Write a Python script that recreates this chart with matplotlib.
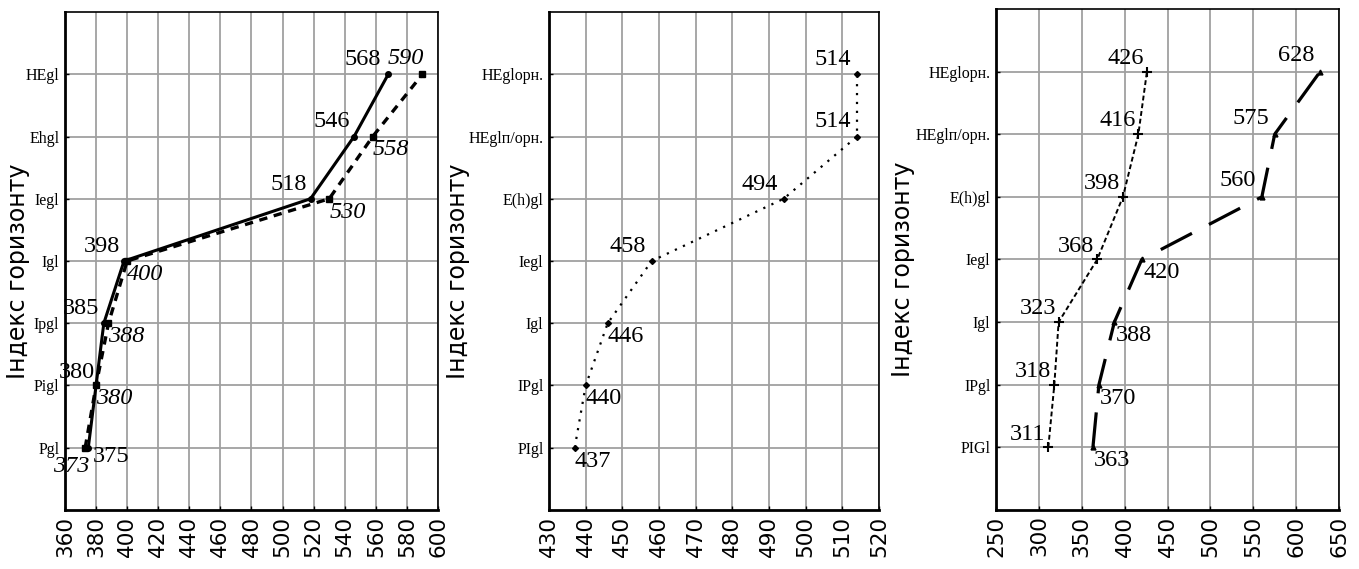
import numpy as np
import matplotlib.pyplot as plt

# --- panel 1 ---
cats1 = ["Pgl", "Pigl", "Ipgl", "Igl", "Iegl", "Ehgl", "HEgl"]
solid1 = [375, 380, 385, 398, 518, 546, 568]
dashed1 = [373, 380, 388, 400, 530, 558, 590]

# --- panel 2 ---
cats2 = ["PIgl", "IPgl", "Igl", "Iegl", "E(h)gl", "HEglп/орн.", "HEglорн."]
dotted2 = [437, 440, 446, 458, 494, 514, 514]

# --- panel 3 ---
cats3 = ["PIGl", "IPgl", "Igl", "Iegl", "E(h)gl", "HEglп/орн.", "HEglорн."]
dotted3 = [311, 318, 323, 368, 398, 416, 426]
longdash3 = [363, 370, 388, 420, 560, 575, 628]

YLABEL = "Індекс горизонту"
SERIF = "Liberation Serif"

fig = plt.figure(figsize=(13.59, 5.69), dpi=100)
ax1 = fig.add_axes([0.0478, 0.1037, 0.2745, 0.8752])
ax2 = fig.add_axes([0.4040, 0.1037, 0.2428, 0.8752])
ax3 = fig.add_axes([0.7329, 0.1037, 0.2524, 0.8805])


def style_axes(ax, cats, xlim, xticks, label_x):
    y = np.arange(1, len(cats) + 1)
    ax.set_ylim(0, len(cats) + 1)
    ax.set_yticks(y)
    ax.set_yticklabels(cats, family=SERIF, fontsize=11.5)
    ax.set_xlim(*xlim)
    ax.set_xticks(xticks)
    ax.set_xticklabels([str(t) for t in xticks], rotation=90,
                       family="DejaVu Sans", fontsize=15.5)
    ax.grid(True, color="#a0a0a0", linewidth=1.3)
    ax.set_axisbelow(True)
    ax.tick_params(length=3, width=1, direction="in", pad=4)
    for side in ("left", "bottom"):
        ax.spines[side].set_linewidth(2.0)
    for side in ("top", "right"):
        ax.spines[side].set_linewidth(1.2)
    ax.set_ylabel(YLABEL, family="DejaVu Sans", fontsize=17)
    ax.yaxis.set_label_coords(label_x, 0.48)
    return y


def label(ax, x, y, txt, dx, dy, ha, va, italic=False):
    ax.annotate(txt, (x, y), xytext=(dx, dy), textcoords="offset points",
                ha=ha, va=va, family=SERIF, fontsize=17.5,
                style="italic" if italic else "normal")


# panel 1
y1 = style_axes(ax1, cats1, (360, 600), np.arange(360, 601, 20), -0.094)
ax1.plot(solid1, y1, color="black", lw=2.2, marker="o", ms=4)
ax1.plot(dashed1, y1, color="black", lw=2.4, ls=(0, (2.5, 2)),
         marker="s", ms=5)
for v, yy in zip(solid1, y1):
    if v == 375:
        label(ax1, v, yy, str(v), 3, 1, "left", "top")
    elif v == 380:
        label(ax1, v, yy, str(v), -1, 2, "right", "bottom")
    elif v == 568:
        label(ax1, v, yy, str(v), -5, 3, "right", "bottom")
    else:
        label(ax1, v, yy, str(v), -3, 3, "right", "bottom")
for v, yy in zip(dashed1, y1):
    if v == 373:
        label(ax1, v, yy, str(v), 3, -6, "right", "top", italic=True)
    elif v == 590:
        label(ax1, v, yy, str(v), 1, 4, "right", "bottom", italic=True)
    else:
        label(ax1, v, yy, str(v), 0, -2, "left", "top", italic=True)

# panel 2
y2 = style_axes(ax2, cats2, (430, 520), np.arange(430, 521, 10), -0.24)
ax2.plot(dotted2, y2, color="black", lw=1.6, ls=(0, (1, 3)),
         marker="D", ms=3)
for v, yy in zip(dotted2, y2):
    if v < 450:
        label(ax2, v, yy, str(v), 0, -2, "left", "top")
    else:
        label(ax2, v, yy, str(v), -4, 3, "right", "bottom")

# panel 3
y3 = style_axes(ax3, cats3, (250, 650), np.arange(250, 651, 50), -0.236)
ax3.plot(dotted3, y3, color="black", lw=1.4, ls=(0, (2.5, 1.5)),
         marker="+", ms=7, mew=1.5)
ax3.plot(longdash3, y3, color="black", lw=2.3, ls=(0, (11, 6)),
         marker="^", ms=3.5)
for v, yy in zip(dotted3, y3):
    label(ax3, v, yy, str(v), -2, 2, "right", "bottom")
for v, yy in zip(longdash3, y3):
    if v <= 420:
        label(ax3, v, yy, str(v), 1, -2, "left", "top")
    else:
        label(ax3, v, yy, str(v), -4, 4, "right", "bottom")

fig.savefig("out.png", dpi=100)
